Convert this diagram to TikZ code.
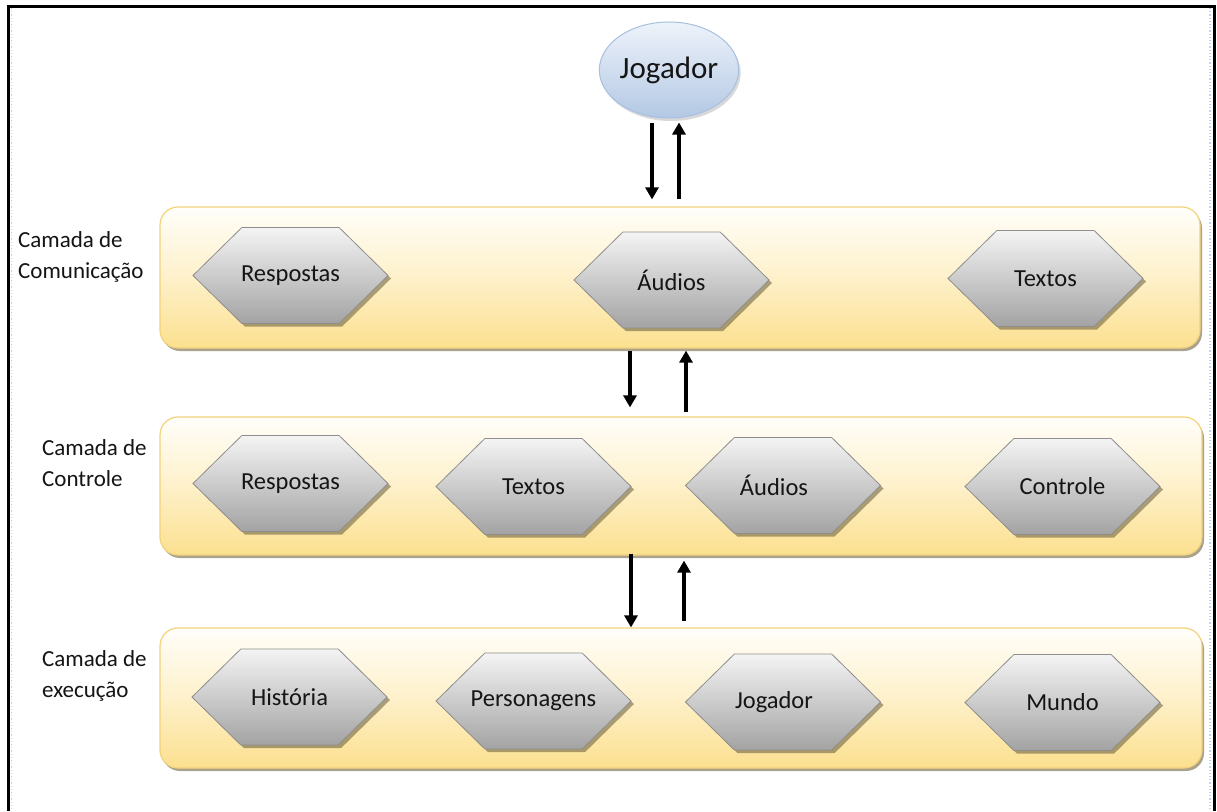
\documentclass[tikz,border=0pt]{standalone}
\usepackage{fontspec}
\setmainfont{Carlito}
\usetikzlibrary{shapes.geometric,shapes.symbols,shadows,arrows.meta}
\definecolor{layerline}{HTML}{F2D27A}
\definecolor{layertop}{HTML}{FFFEFA}
\definecolor{layerbot}{HTML}{FCE08F}
\definecolor{hexline}{HTML}{8E8E8E}
\definecolor{hextop}{HTML}{F4F4F4}
\definecolor{hexbot}{HTML}{A3A3A3}
\definecolor{elltop}{HTML}{EEF3FA}
\definecolor{ellbot}{HTML}{B3C8E4}
\definecolor{ellline}{HTML}{A7C0E0}
\definecolor{txt}{HTML}{151515}
\definecolor{guide}{HTML}{BCD4EE}
\tikzset{
  layerbox/.style={draw=layerline, line width=1.2pt, rounded corners=18pt,
    top color=layertop, bottom color=layerbot, middle color=layertop!55!layerbot,
    drop shadow={shadow xshift=2pt, shadow yshift=-3pt, fill=black!55!layerbot, opacity=0.6},
    minimum width=1042pt, inner sep=0pt},
  hexa/.style={signal, signal to=west and east, signal pointer angle=89,
    draw=hexline, line width=0.8pt, top color=hextop, bottom color=hexbot,
    drop shadow={shadow xshift=3pt, shadow yshift=-3pt, fill=black!60!layerbot, opacity=0.55},
    minimum width=195pt, minimum height=96pt, inner xsep=-30pt, inner ysep=0pt,
    font=\fontsize{24.5}{28}\selectfont, text=txt},
  playerell/.style={ellipse, draw=ellline, line width=1pt, top color=elltop, bottom color=ellbot,
    drop shadow={shadow xshift=2pt, shadow yshift=-3pt, fill=black!30, opacity=0.5},
    minimum width=128pt, minimum height=96pt, inner sep=0pt,
    font=\fontsize{31}{35}\selectfont, text=txt},
  layerlabel/.style={anchor=west, align=left, inner sep=0pt,
    font=\fontsize{23}{31}\selectfont, text=txt},
  flow/.style={line width=3.6pt, -{Triangle[length=12pt,width=13pt]}}
}
% text set slightly left of the hexagon's centre
\newcommand{\leftset}[1]{\hspace*{-18pt}#1}
\begin{document}
\begin{tikzpicture}[x=1pt,y=-1pt]
\useasboundingbox (0,0) rectangle (1217,811);
\fill[white] (0,0) rectangle (1217,811);

% frame
\draw[guide, dotted, line width=1.2pt] (11.5,8) -- (11.5,811);
\draw[guide, dotted, line width=1.2pt] (1210,8) -- (1210,811);
\draw[black, line width=3.2pt, line join=miter] (8.5,811) -- (8.5,6.5) -- (1214.5,6.5) -- (1214.5,811);

% player
\node[playerell] (jog) at (669,70) {Jogador};

% layers
\node[layerbox, minimum width=1040pt, minimum height=141pt] (L1) at (680,277.5) {};
\node[layerbox, minimum height=138pt] (L2) at (681,486) {};
\node[layerbox, minimum height=140pt] (L3) at (681,698) {};

\node[layerlabel] (lab1) at (18,257) {Camada de\\Comunicação};
\node[layerlabel] (lab2) at (42,463) {Camada de\\Controle};
\node[layerlabel] (lab3) at (42,676) {Camada de\\execução};

% communication layer
\node[hexa] (c1) at (290.5,275.5) {Respostas};
\node[hexa] (c2) at (671.5,280) {Áudios};
\node[hexa] (c3) at (1045.5,278.5) {Textos};

% control layer
\node[hexa] (k1) at (290.5,483.5) {Respostas};
\node[hexa] (k2) at (533.5,486.5) {Textos};
\node[hexa] (k3) at (783,485.5) {\leftset{Áudios}};
\node[hexa] (k4) at (1062.5,486.5) {Controle};

% execution layer
\node[hexa] (e1) at (289.5,697) {História};
\node[hexa] (e2) at (533.5,701) {Personagens};
\node[hexa] (e3) at (783,702) {\leftset{Jogador}};
\node[hexa] (e4) at (1062.5,702.5) {Mundo};

% flows between player and layers
\draw[flow] ([shift={(-17,4)}]jog.south) -- ([shift={(-17,-7)}]jog.south |- L1.north);
\draw[flow] ([shift={(10,-7)}]jog.south |- L1.north) -- ([shift={(10,4)}]jog.south);

\draw[flow] ([shift={(-50,2)}]L1.south) -- ([shift={(-50,-9)}]L1.south |- L2.north);
\draw[flow] ([shift={(6,-4)}]L1.south |- L2.north) -- ([shift={(6,2)}]L1.south);

\draw[flow] ([shift={(-50,-2)}]L2.south) -- ([shift={(-50,0)}]L2.south |- L3.north);
\draw[flow] ([shift={(3,-6)}]L2.south |- L3.north) -- ([shift={(3,5)}]L2.south);
\end{tikzpicture}
\end{document}
